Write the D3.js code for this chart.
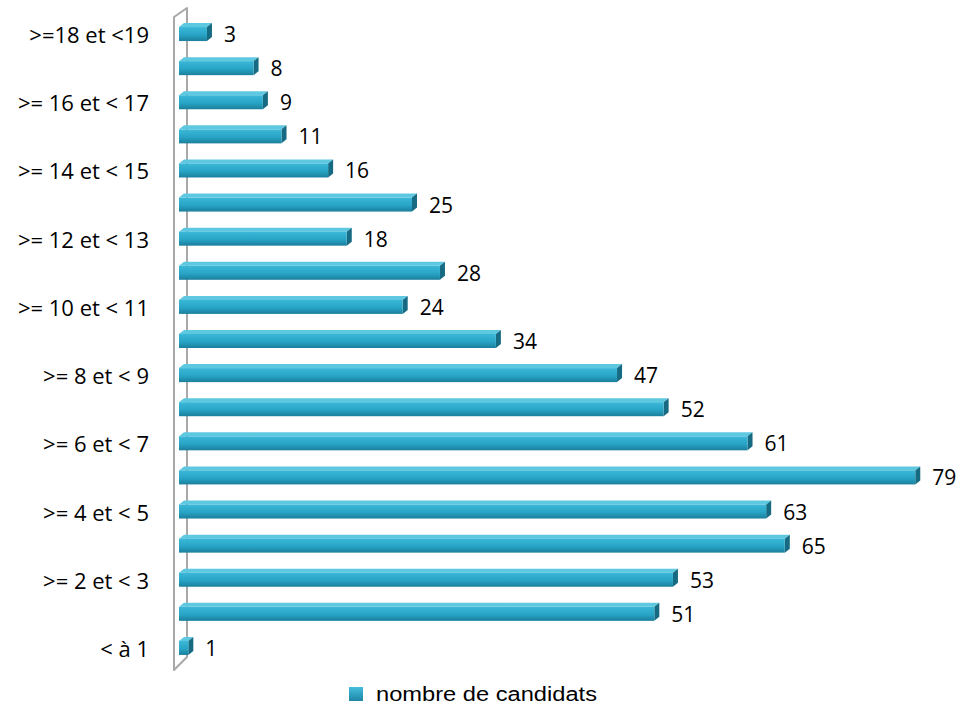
<!DOCTYPE html>
<html>
<head>
<meta charset="utf-8">
<script src="https://cdn.jsdelivr.net/npm/d3@7"></script>
<style>
  html, body { margin: 0; padding: 0; background: #fff; }
  svg { display: block; }
</style>
</head>
<body>
<svg id="chart" width="960" height="706"></svg>
<script>
// Categories from bottom to top
const categories = [
  "< à 1", ">= 1 et < 2", ">= 2 et < 3", ">= 3 et < 4", ">= 4 et < 5",
  ">= 5 et < 6", ">= 6 et < 7", ">= 7 et < 8", ">= 8 et < 9", ">= 9 et < 10",
  ">= 10 et < 11", ">= 11 et < 12", ">= 12 et < 13", ">= 13 et < 14", ">= 14 et < 15",
  ">= 15 et < 16", ">= 16 et < 17", ">= 17 et < 18", ">=18 et <19"
];
const values = [1, 51, 53, 65, 63, 79, 61, 52, 47, 34, 24, 28, 18, 25, 16, 11, 9, 8, 3];
// Only every other category label is displayed
const shownLabels = ["< à 1", ">= 2 et < 3", ">= 4 et < 5", ">= 6 et < 7", ">= 8 et < 9",
  ">= 10 et < 11", ">= 12 et < 13", ">= 14 et < 15", ">= 16 et < 17", ">=18 et <19"];
const seriesName = "nombre de candidats";

const svg = d3.select("#chart");
const font = "'Open Sans', Lato, sans-serif";

// Scales
const x = d3.scaleLinear().domain([0, 80]).range([179, 179 + 9.32 * 80]);
const y = d3.scaleBand().domain(categories.slice().reverse()).range([15, 663]).paddingInner(0).paddingOuter(0);

const defs = svg.append("defs");
const g1 = defs.append("linearGradient").attr("id", "front").attr("x1", 0).attr("y1", 0).attr("x2", 0).attr("y2", 1);
g1.append("stop").attr("offset", "0%").attr("stop-color", "#3bb8d8");
g1.append("stop").attr("offset", "55%").attr("stop-color", "#28a4c6");
g1.append("stop").attr("offset", "100%").attr("stop-color", "#1b7f9c");
const g2 = defs.append("linearGradient").attr("id", "leg").attr("x1", 0).attr("y1", 0).attr("x2", 0).attr("y2", 1);
g2.append("stop").attr("offset", "0%").attr("stop-color", "#45bedc");
g2.append("stop").attr("offset", "100%").attr("stop-color", "#1d86a6");

// Wall (3D)
svg.append("path")
  .attr("d", "M174,670 L174,17 L187,8 L187,657 Z")
  .attr("fill", "#ffffff")
  .attr("stroke", "#a8a8a8")
  .attr("stroke-width", 2)
  .attr("stroke-linejoin", "round");

// Bars
const dx = 5, dy = 4;
const bars = svg.append("g").selectAll("g").data(categories).enter().append("g");
bars.each(function(c, i) {
  const v = values[i];
  const cy = y(c) + y.bandwidth() / 2;
  const x0 = x(0), x1 = x(v);
  const yt = cy - 5, yb = cy + 9;
  const gg = d3.select(this);
  // top face
  gg.append("path")
    .attr("d", `M${x0},${yt} L${x0 + dx},${yt - dy} L${x1 + dx},${yt - dy} L${x1},${yt} Z`)
    .attr("fill", "#5ec8e1");
  // side face
  gg.append("path")
    .attr("d", `M${x1},${yt} L${x1 + dx},${yt - dy} L${x1 + dx},${yb - dy} L${x1},${yb} Z`)
    .attr("fill", "#166a82");
  // front face
  gg.append("rect")
    .attr("x", x0).attr("y", yt)
    .attr("width", x1 - x0).attr("height", yb - yt)
    .attr("fill", "url(#front)");
  // value label
  gg.append("text")
    .attr("x", x1 + dx + 12)
    .attr("y", cy + 10)
    .attr("font-family", font)
    .attr("font-size", 21)
    .attr("fill", "#000")
    .text(v);
});

// Category labels
svg.append("g").selectAll("text").data(shownLabels).enter().append("text")
  .attr("x", 149)
  .attr("y", d => y(d) + y.bandwidth() / 2 + 11)
  .attr("text-anchor", "end")
  .attr("font-family", font)
  .attr("font-size", 22)
  .attr("fill", "#000")
  .text(d => d);

// Legend
svg.append("rect").attr("x", 349).attr("y", 687).attr("width", 14).attr("height", 14).attr("fill", "url(#leg)");
svg.append("text").attr("x", 376).attr("y", 701)
  .attr("font-family", "'Liberation Sans', Arial, sans-serif")
  .attr("font-size", 20).attr("fill", "#000")
  .attr("textLength", 221).attr("lengthAdjust", "spacingAndGlyphs")
  .text(seriesName);
</script>
</body>
</html>
